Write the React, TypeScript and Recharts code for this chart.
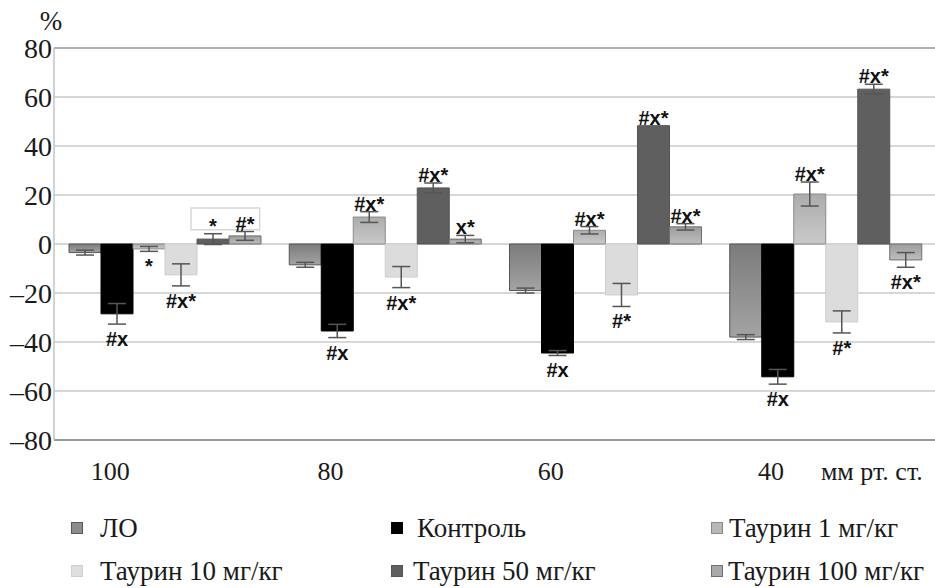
import React from 'react';
import {
  BarChart, Bar, XAxis, YAxis, CartesianGrid, ErrorBar, LabelList, ReferenceLine,
} from 'recharts';

// pressure steps, mm Hg
const categories = ['100', '80', '60', '40'];

// % change from baseline
const loValues = [-3.5, -8.5, -19, -38];
const loErr = [1, 1, 1, 1];
const controlValues = [-28.5, -35.5, -44.5, -54.2];
const controlErr = [4.2, 2.7, 1, 3];
const t1Values = [-2, 11, 5.6, 20.4];
const t1Err = [1, 2.2, 1.5, 4.9];
const t10Values = [-12.6, -13.5, -20.8, -31.8];
const t10Err = [4.5, 4.3, 4.7, 4.5];
const t50Values = [2, 22.9, 48.3, 63.2];
const t50Err = [2.2, 2, 0, 2];
const t100Values = [3.3, 2, 7, -6.5];
const t100Err = [1.8, 1.5, 1.3, 3];

// significance marks
const controlMarks = ['#x', '#x', '#x', '#x'];
const t1Marks = ['*', '#x*', '#x*', '#x*'];
const t10Marks = ['#x*', '#x*', '#*', '#*'];
const t50Marks = ['*', '#x*', '#x*', '#x*'];
const t100Marks = ['#*', 'x*', '#x*', '#x*'];

const yTicks = [-80, -60, -40, -20, 0, 20, 40, 60, 80];

const data = categories.map((name, i) => ({
  name,
  lo: loValues[i], loErr: loErr[i],
  control: controlValues[i], controlErr: controlErr[i],
  t1: t1Values[i], t1Err: t1Err[i],
  t10: t10Values[i], t10Err: t10Err[i],
  t50: t50Values[i], t50Err: t50Err[i],
  t100: t100Values[i], t100Err: t100Err[i],
}));

const legendItems = [
  { name: 'ЛО', fill: '#8c8c8c', stroke: '#5a5a5a', left: 71, text: 100, row: 0 },
  { name: 'Контроль', fill: '#000', stroke: '#000', left: 391, text: 417, row: 0 },
  { name: 'Таурин 1 мг/кг', fill: '#b8b8b8', stroke: '#8a8a8a', left: 711, text: 729, row: 0 },
  { name: 'Таурин 10 мг/кг', fill: '#dedede', stroke: '#cfcfcf', left: 71, text: 100, row: 1 },
  { name: 'Таурин 50 мг/кг', fill: '#5f5f5f', stroke: '#555', left: 391, text: 413, row: 1 },
  { name: 'Таурин 100 мг/кг', fill: '#a8a8a8', stroke: '#6f6f6f', left: 711, text: 728, row: 1 },
];

const serif = '"Liberation Serif", "Times New Roman", serif';
const markFont = { fontFamily: '"Liberation Sans", Arial, sans-serif', fontWeight: 700, fontSize: 20 };

function makeMarks(marks: string[], values: number[], errs: number[], box = false) {
  return (props: any) => {
    const vb = props.viewBox ?? props;
    const { x, y, width, height } = vb;
    const i = props.index;
    const v = values[i];
    const text = marks[i];
    if (!text || v === 0) return null;
    const k = Math.abs(height) / Math.abs(v);
    const top = Math.min(y, y + height);
    const bottom = Math.max(y, y + height);
    const cx = x + width / 2;
    const zeroY = v > 0 ? bottom : top;
    let ty: number;
    if (v > 0) ty = top - errs[i] * k - 1;
    else ty = bottom + errs[i] * k + 22;
    return (
      <g>
        {box && i === 0 && (
          <rect x={x - 6} y={zeroY - 14.7 * k} width={width * 2 + 4.6} height={8.9 * k}
            fill="none" stroke="#d6d6d6" strokeWidth={1.5} />
        )}
        <text x={cx} y={ty} textAnchor="middle" fill="#111" style={markFont}>{text}</text>
      </g>
    );
  };
}

const XTick = (props: any) => {
  const { x, y, payload, index } = props;
  return (
    <g>
      <text x={x - 54} y={y + 32} textAnchor="middle" fill="#1a1a1a" fontSize={26}
        fontFamily={serif}>{payload.value}</text>
      {index === categories.length - 1 && (
        <text x={x - 4} y={y + 32} textAnchor="start" fill="#1a1a1a" fontSize={26}
          fontFamily={serif}>мм рт. ст.</text>
      )}
    </g>
  );
};

const YTick = (props: any) => {
  const { x, y, payload } = props;
  return (
    <text x={x} y={y} dy={10} textAnchor="end" fill="#1a1a1a" fontSize={28} fontFamily={serif}>
      {String(payload.value).replace('-', '–')}
    </text>
  );
};

const errProps = { width: 9, stroke: '#555', strokeWidth: 1.5, direction: 'y' as const };

export default function App() {
  return (
    <div style={{ position: 'absolute', left: 0, top: 0, width: 935, height: 588, background: '#fff',
      fontFamily: serif }}>
      <BarChart width={935} height={500} data={data} barCategoryGap={15} barGap={0}
        margin={{ top: 48, right: 0, left: 0, bottom: 20 }}>
        <defs>
          <linearGradient id="gLo" x1="0" y1="0" x2="0" y2="1">
            <stop offset="0%" stopColor="#7c7c7c" />
            <stop offset="100%" stopColor="#a3a3a3" />
          </linearGradient>
          <linearGradient id="gT1" x1="0" y1="0" x2="0" y2="1">
            <stop offset="0%" stopColor="#acacac" />
            <stop offset="100%" stopColor="#c9c9c9" />
          </linearGradient>
          <linearGradient id="gT100" x1="0" y1="0" x2="0" y2="1">
            <stop offset="0%" stopColor="#9d9d9d" />
            <stop offset="100%" stopColor="#bdbdbd" />
          </linearGradient>
        </defs>
        <CartesianGrid vertical={false} stroke="#cacaca" strokeWidth={1.5} />
        <ReferenceLine y={80} stroke="#a5a5a5" strokeWidth={1.5} />
        <XAxis dataKey="name" height={40} tickLine={false} axisLine={{ stroke: '#858585', strokeWidth: 1.5 }}
          tick={<XTick />} interval={0} />
        <YAxis width={54} domain={[-80, 80]} ticks={yTicks} interval={0} tickSize={0} tickMargin={2}
          tickLine={false} axisLine={{ stroke: '#c4c4c4', strokeWidth: 1.5 }}
          tick={<YTick />}
          label={{
            content: (p: any) => (
              <text x={p.viewBox.x + p.viewBox.width - 3} y={p.viewBox.y - 18} textAnchor="middle"
                fontSize={27} fill="#1a1a1a" fontFamily={serif}>%</text>
            ),
          }} />
        <Bar dataKey="lo" name="ЛО" fill="url(#gLo)" stroke="#555" strokeWidth={1} isAnimationActive={false}>
          <ErrorBar dataKey="loErr" {...errProps} />
        </Bar>
        <Bar dataKey="control" name="Контроль" fill="#000" stroke="#000" isAnimationActive={false}>
          <ErrorBar dataKey="controlErr" {...errProps} />
          <LabelList dataKey="control" content={makeMarks(controlMarks, controlValues, controlErr)} />
        </Bar>
        <Bar dataKey="t1" name="Таурин 1 мг/кг" fill="url(#gT1)" stroke="#8a8a8a" isAnimationActive={false}>
          <ErrorBar dataKey="t1Err" {...errProps} />
          <LabelList dataKey="t1" content={makeMarks(t1Marks, t1Values, t1Err)} />
        </Bar>
        <Bar dataKey="t10" name="Таурин 10 мг/кг" fill="#dcdcdc" stroke="#cdcdcd" isAnimationActive={false}>
          <ErrorBar dataKey="t10Err" {...errProps} />
          <LabelList dataKey="t10" content={makeMarks(t10Marks, t10Values, t10Err)} />
        </Bar>
        <Bar dataKey="t50" name="Таурин 50 мг/кг" fill="#5f5f5f" stroke="#555" isAnimationActive={false}>
          <ErrorBar dataKey="t50Err" {...errProps} />
          <LabelList dataKey="t50" content={makeMarks(t50Marks, t50Values, t50Err, true)} />
        </Bar>
        <Bar dataKey="t100" name="Таурин 100 мг/кг" fill="url(#gT100)" stroke="#6f6f6f" isAnimationActive={false}>
          <ErrorBar dataKey="t100Err" {...errProps} />
          <LabelList dataKey="t100" content={makeMarks(t100Marks, t100Values, t100Err)} />
        </Bar>
      </BarChart>
      <div style={{ position: 'relative', width: 935, height: 88 }}>
        {legendItems.map((it) => (
          <React.Fragment key={it.name}>
            <div style={{ position: 'absolute', left: it.left, top: 22 + it.row * 43, width: 12, height: 12,
              background: it.fill, border: `1px solid ${it.stroke}`, boxSizing: 'border-box' }} />
            <div style={{ position: 'absolute', left: it.text, top: 14 + it.row * 43, fontSize: 27, lineHeight: '28px',
              color: '#1a1a1a', whiteSpace: 'nowrap' }}>{it.name}</div>
          </React.Fragment>
        ))}
      </div>
    </div>
  );
}
